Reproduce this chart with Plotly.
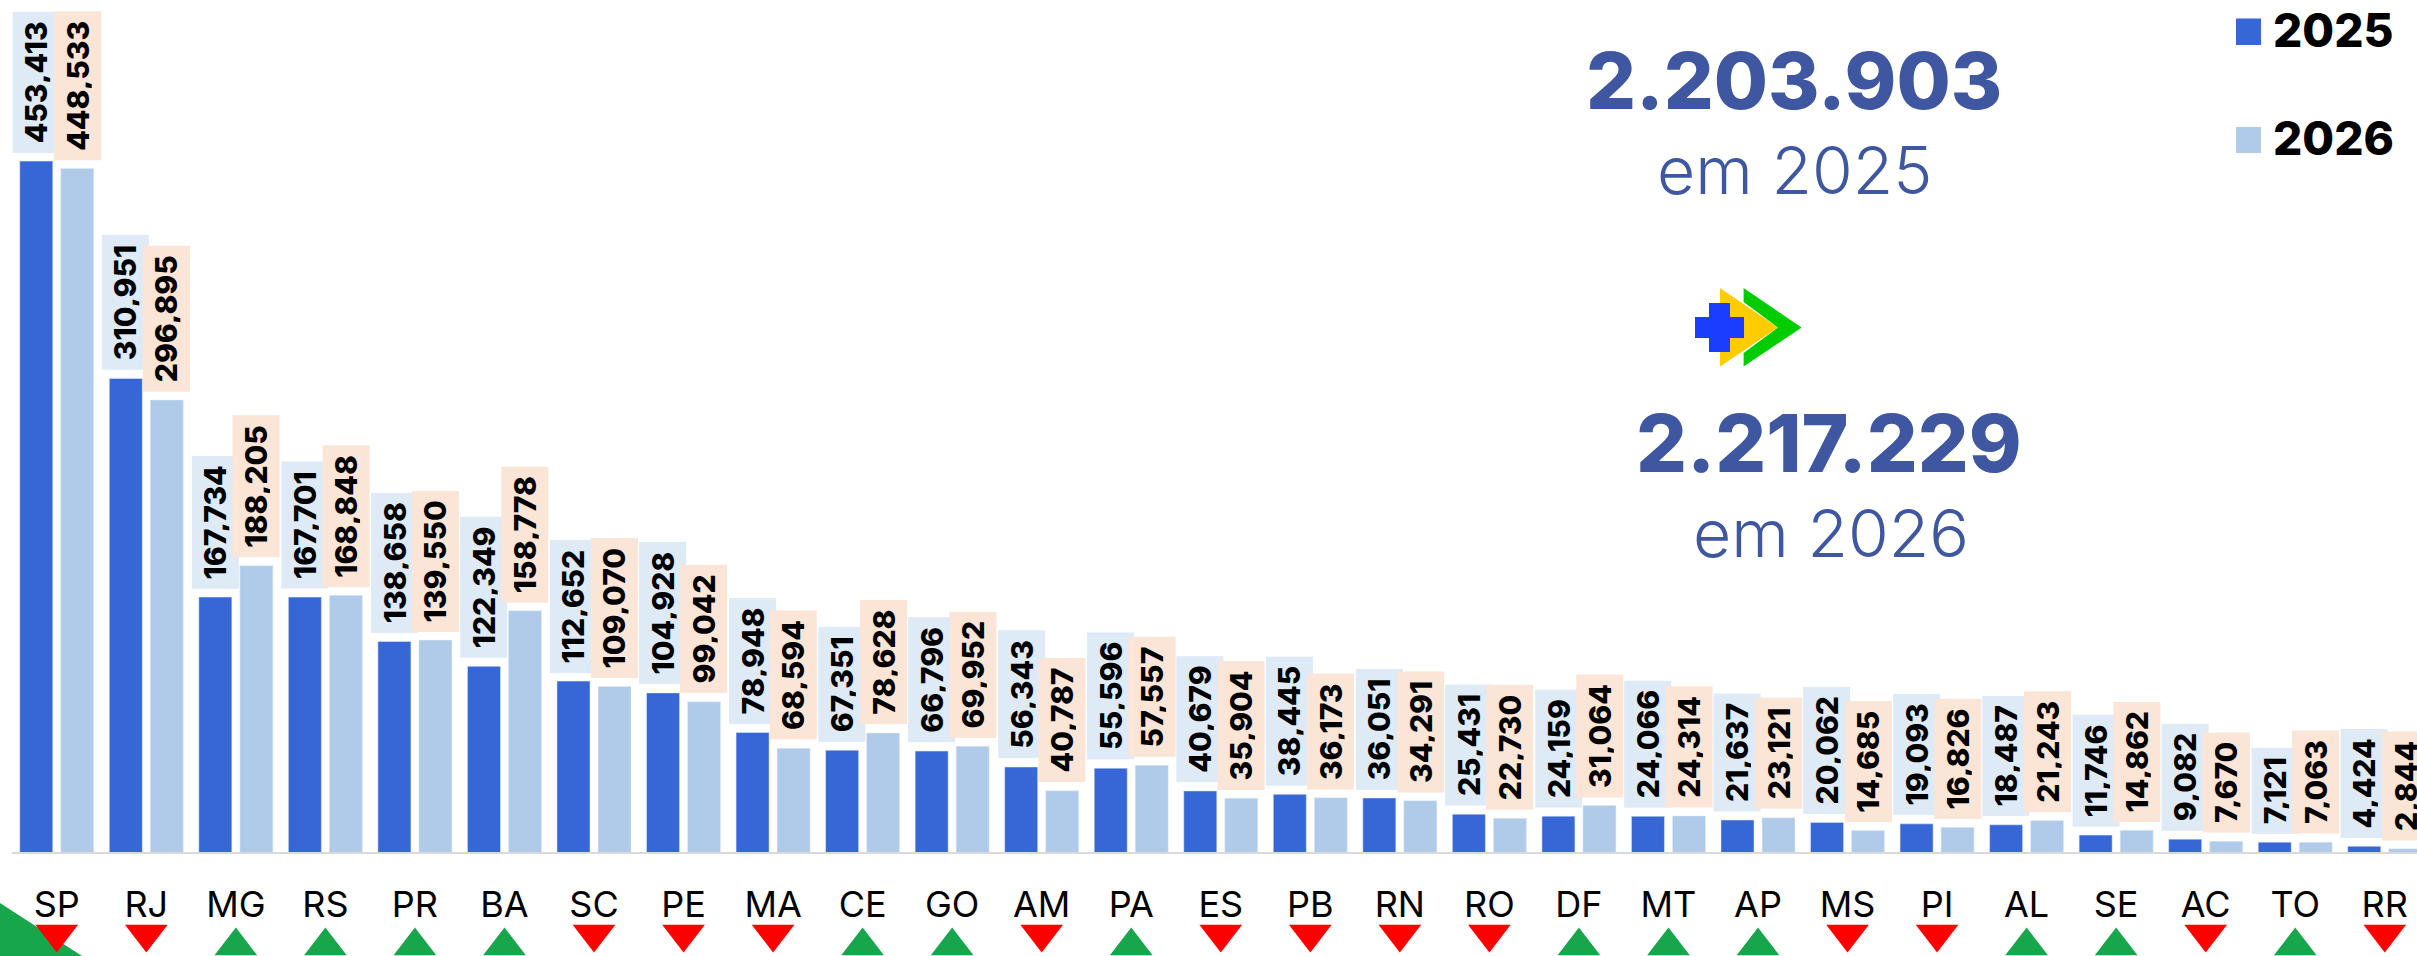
import plotly.graph_objects as go

states = ["SP","RJ","MG","RS","PR","BA","SC","PE","MA","CE","GO","AM","PA","ES","PB","RN","RO","DF","MT","AP","MS","PI","AL","SE","AC","TO","RR"]
v2025 = [453413,310951,167734,167701,138658,122349,112652,104928,78948,67351,66796,56343,55596,40679,38445,36051,25431,24159,24066,21637,20062,19093,18487,11746,9082,7121,4424]
v2026 = [448533,296895,188205,168848,139550,158778,109070,99042,68594,78628,69952,40787,57557,35904,36173,34291,22730,31064,24314,23121,14685,16826,21243,14862,7670,7063,2844]
trend = ["d","d","u","u","u","u","d","d","d","u","u","d","u","d","d","d","d","u","u","u","d","d","u","u","d","u","d"]
total_labels = ["2.203.903", "2.217.229"]
year_labels = ["em 2025", "em 2026"]
series_names = ["2025", "2026"]

W, H = 2417, 956
LEFT, BASE = 12, 853
FONT = "Inter"
C25, C26 = "#3767D6", "#B0CBEA"
TXT = "#3F57A0"
SCALE = 0.001526

def px(x): return (x - LEFT) / (W - LEFT)
def py(y): return (H - y) / H
def val(y): return (BASE - y) / SCALE

fig = go.Figure()
fig.add_bar(x=states, y=v2025, name=series_names[0], marker_color=C25, showlegend=False)
fig.add_bar(x=states, y=v2026, name=series_names[1], marker_color=C26, showlegend=False)

up = [s for s, t in zip(states, trend) if t == "u"]
dn = [s for s, t in zip(states, trend) if t == "d"]
fig.add_scatter(x=up, y=[val(946) for _ in up], mode="markers", showlegend=False,
                marker=dict(symbol="triangle-up", size=37, color="#17A64B"))
fig.add_scatter(x=dn, y=[val(934) for _ in dn], mode="markers", showlegend=False,
                marker=dict(symbol="triangle-down", size=37, color="#FF0000"))

ann = []
for vals, off, bg in ((v2025, -0.229, "#DEEAF6"), (v2026, 0.229, "#FBE5D6")):
    for i, v in enumerate(vals):
        ann.append(dict(x=i + off, y=v, xref="x", yref="y", text=f"{v:,}", textangle=-90, showarrow=False,
                        xanchor="center", yanchor="bottom", yshift=8, bgcolor=bg, borderpad=9, height=28,
                        font=dict(family=FONT, size=30, color="#000000", weight=800)))

def txt(s, cx, cy, size, weight, color=TXT):
    return dict(x=px(cx), y=py(cy), xref="paper", yref="paper", text=s, showarrow=False, xanchor="center", yanchor="middle",
                font=dict(family=FONT, size=size, color=color, weight=weight))

ann += [txt(total_labels[0], 1794, 80, 78.5, 800), txt(year_labels[0], 1794, 170, 66, 300),
        txt(total_labels[1], 1829, 443, 80, 800), txt(year_labels[1], 1831, 533, 66, 300),
        txt(series_names[0], 2333, 30, 46, 800, "#000000"), txt(series_names[1], 2333, 138, 46, 800, "#000000")]

def poly(pts, color, layer="above"):
    d = "M" + " L".join(f"{px(x):.5f},{py(y):.5f}" for x, y in pts) + " Z"
    return dict(type="path", path=d, xref="paper", yref="paper", fillcolor=color, line_width=0, layer=layer)

shapes = [
    poly([(2236,18.5),(2261,18.5),(2261,45),(2236,45)], C25),
    poly([(2236,127),(2261,127),(2261,153),(2236,153)], C26),
    poly([(1720,288),(1778,327.5),(1720,366.6)], "#FFCC00"),
    poly([(1743.6,288),(1801.6,327.5),(1743.6,366.6),(1743.6,353),(1778,327.5),(1743.6,302)], "#00CC00"),
    poly([(1709,303),(1730,303),(1730,317),(1744,317),(1744,338),(1730,338),(1730,352),(1709,352),(1709,338),(1695,338),(1695,317),(1709,317)], "#1A3DFF"),
    poly([(0,903),(82,956),(0,956)], "#17A64B", "below"),
]

fig.update_layout(
    width=W, height=H, margin=dict(l=LEFT, r=0, t=0, b=0), autosize=False,
    paper_bgcolor="white", plot_bgcolor="white",
    barmode="group", bargap=0.084, bargroupgap=0.195,
    annotations=ann, shapes=shapes, showlegend=False,
    xaxis=dict(type="category", categoryorder="array", categoryarray=states, range=[-0.5, 26.36], showgrid=False,
               anchor="free", position=(H - BASE) / H,
               showline=True, linecolor="#D9D9D9", linewidth=2, ticks="outside", ticklen=20, tickcolor="rgba(0,0,0,0)",
               tickfont=dict(family=FONT, size=36, color="#000000", weight=400)),
    yaxis=dict(range=[val(H), val(0)], visible=False, zeroline=False, showgrid=False),
)
fig.write_html("out.html", config={"displayModeBar": False},
               post_script="document.body.style.margin='0';document.documentElement.style.overflow='hidden';")
